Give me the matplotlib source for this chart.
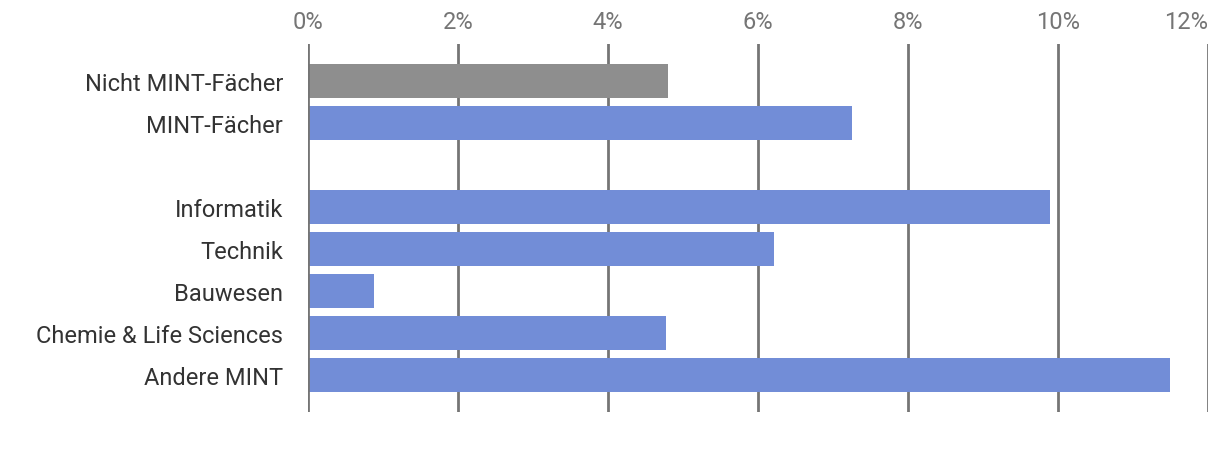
import matplotlib
matplotlib.use("Agg")
import matplotlib.pyplot as plt
from matplotlib.ticker import FuncFormatter

categories = ["Nicht MINT-Fächer", "MINT-Fächer", "", "Informatik", "Technik",
              "Bauwesen", "Chemie & Life Sciences", "Andere MINT"]
values = [4.8, 7.25, None, 9.89, 6.21, 0.88, 4.77, 11.49]
colors = ["#8e8e8e", "#728dd7", None, "#728dd7", "#728dd7", "#728dd7", "#728dd7", "#728dd7"]
xticks = [0, 2, 4, 6, 8, 10, 12]

plt.rcParams['font.family'] = ['Roboto', 'DejaVu Sans']

W, H = 1220, 456
fig = plt.figure(figsize=(W / 100, H / 100), dpi=100)
ax = fig.add_axes([308 / W, 1 - 413 / H, 900 / W, 368 / H])

pos = list(range(len(categories)))
for p, v, c in zip(pos, values, colors):
    if v is not None:
        ax.barh(p, v, height=0.81, color=c, zorder=2)

ax.set_xlim(0, 12)
ax.set_ylim(len(categories) - 0.5 + 16 / 42, -0.5 - 16 / 42)
ax.set_xticks(xticks)
ax.xaxis.set_major_formatter(FuncFormatter(lambda x, _: f"{x:.0f}%"))
ax.xaxis.tick_top()
ax.tick_params(axis='x', length=0, pad=8, labelsize=17, labelcolor="#757575")
fig.canvas.draw()
last = ax.get_xticklabels()[-1]
last.set_horizontalalignment('right')
ax.set_yticks(pos)
ax.set_yticklabels(categories)
ax.tick_params(axis='y', length=0, pad=18, labelsize=17, labelcolor="#333333")
for x in xticks:
    ax.axvline(x, color="#757575", lw=2, zorder=1 if x else 3)
for s in ax.spines.values():
    s.set_visible(False)

fig.savefig("out.png", dpi=100, facecolor="white")
